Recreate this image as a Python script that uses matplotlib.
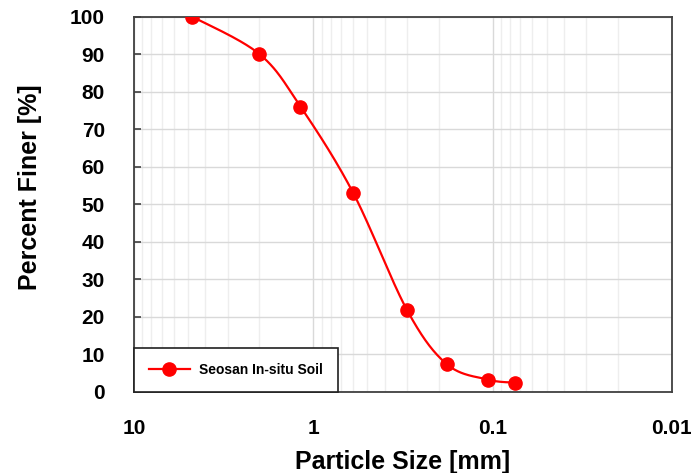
import numpy as np
import matplotlib.pyplot as plt
from matplotlib.ticker import FixedLocator, LogLocator, NullFormatter

plt.rcParams['font.family'] = ['Liberation Sans', 'DejaVu Sans']

# =========================
# Data (sieve analysis)
# =========================
size_mm = [4.75, 2.0, 1.18, 0.6, 0.3, 0.18, 0.106, 0.075]
finer_pct = [100.0, 90.0, 76.0, 53.0, 21.7, 7.3, 3.2, 2.4]
series_name = "Seosan In-situ Soil"
x_ticks = [10, 1, 0.1, 0.01]
x_tick_labels = ["10", "1", "0.1", "0.01"]
y_ticks = list(range(0, 101, 10))


# =========================
# Smoothed line (Excel-like Catmull-Rom bezier)
# =========================
def smooth(xs, ys, n=40):
    # work in a space that roughly matches screen proportions
    u = np.log10(xs) * 179.0
    v = np.asarray(ys) * 3.75
    P = np.column_stack([u, v])
    out = []
    for i in range(len(P) - 1):
        p0 = P[i - 1] if i > 0 else P[i]
        p1, p2 = P[i], P[i + 1]
        p3 = P[i + 2] if i + 2 < len(P) else P[i + 1]
        c1 = p1 + (p2 - p0) / 6.0
        c2 = p2 - (p3 - p1) / 6.0
        t = np.linspace(0, 1, n)[:, None]
        seg = ((1 - t) ** 3) * p1 + 3 * ((1 - t) ** 2) * t * c1 + 3 * (1 - t) * t ** 2 * c2 + t ** 3 * p2
        out.append(seg if i == 0 else seg[1:])
    pts = np.vstack(out)
    return 10 ** (pts[:, 0] / 179.0), pts[:, 1] / 3.75


sx, sy = smooth(size_mm, finer_pct)

# =========================
# Plot
# =========================
fig = plt.figure(figsize=(6.91, 4.73), dpi=100)
ax = fig.add_axes([0.194, 0.172, 0.7785, 0.793])

ax.plot(sx, sy, color="#ff0000", linewidth=1.6, zorder=3)
ax.plot(size_mm, finer_pct, linestyle="none", marker="o", markersize=9.5,
        color="#ff0000", zorder=4)
# legend proxy
ax.plot([], [], color="#ff0000", linewidth=1.6, marker="o", markersize=9.5,
        label=series_name)

ax.set_xscale("log")
ax.set_xlim(10, 0.01)
ax.set_ylim(0, 100)

ax.xaxis.set_major_locator(FixedLocator(x_ticks))
ax.set_xticklabels(x_tick_labels)
ax.xaxis.set_minor_locator(LogLocator(base=10, subs=np.arange(2, 10)))
ax.xaxis.set_minor_formatter(NullFormatter())
ax.set_yticks(y_ticks)

ax.grid(which="major", axis="both", color="#d9d9d9", linewidth=1.0, zorder=0)
ax.grid(which="minor", axis="x", color="#eeeeee", linewidth=1.0, zorder=0)
ax.set_axisbelow(True)

for sp in ax.spines.values():
    sp.set_color("#404040")
    sp.set_linewidth(1.3)

ax.tick_params(axis="x", which="both", length=0, pad=20, labelsize=15)
ax.tick_params(axis="y", which="major", direction="in", length=5, width=1.2,
               color="#404040", pad=21, labelsize=15)
for lab in ax.get_xticklabels() + ax.get_yticklabels():
    lab.set_fontweight("bold")

ax.set_xlabel("Particle Size [mm]", fontsize=18, fontweight="bold", labelpad=8)
ax.set_ylabel("Percent Finer [%]", fontsize=18, fontweight="bold")
ax.yaxis.set_label_coords(-0.172, 0.545)

leg = ax.legend(loc="lower left", borderaxespad=0.0, fancybox=False,
                frameon=True, prop={"size": 10, "weight": "bold"},
                borderpad=1.05, handlelength=2.95, handletextpad=0.7)
leg.get_frame().set_edgecolor("#202020")
leg.get_frame().set_linewidth(1.2)
leg.get_frame().set_alpha(1.0)

fig.savefig("out.png", dpi=100)
